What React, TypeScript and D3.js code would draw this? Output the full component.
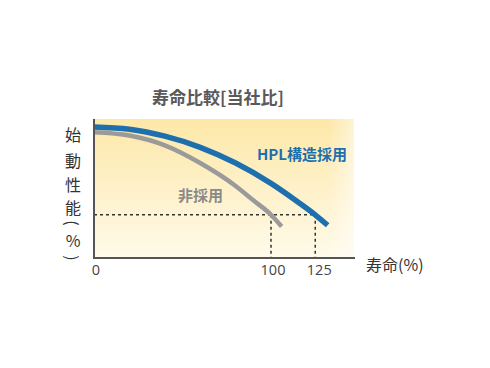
import { useEffect, useRef } from 'react';
import * as d3 from 'd3';

// life (%) vs starting performance (%)
const hplLife = [0, 20, 40, 60, 80, 100, 115, 125, 132];
const hplPerf = [100, 98.3, 93, 84.5, 72.5, 57, 43, 33, 25];
const stdLife = [0, 20, 40, 60, 80, 90, 100, 106];
const stdPerf = [96, 93.5, 86, 72.5, 55, 44, 33, 24];
const xTicks = [0, 100, 125];
const threshold = 33;
const yLabelChars = ['始', '動', '性', '能', '(', '%', ')'];

const W = 490;
const H = 368;
const FONT = '"Noto Sans CJK JP", "Noto Sans", sans-serif';
const NUM_FONT = '"Open Sans", Roboto, "Liberation Sans", sans-serif';

export default function App() {
  const svgRef = useRef<SVGSVGElement>(null);

  useEffect(() => {
    if (!svgRef.current) return;
    const svg = d3.select(svgRef.current);
    svg.selectAll('*').remove();

    const x = d3.scaleLinear().domain([0, 100]).range([94, 271]);
    const y = d3.scaleLinear().domain([0, 100]).range([258, 127]);
    const plotTop = 119;
    const plotRight = 354;

    // background gradients
    const defs = svg.append('defs');
    const vg = defs.append('linearGradient').attr('id', 'bgv').attr('x1', 0).attr('x2', 0).attr('y1', 0).attr('y2', 1);
    vg.append('stop').attr('offset', '0%').attr('stop-color', '#fde8a8');
    vg.append('stop').attr('offset', '100%').attr('stop-color', '#fffaea');
    const hg = defs.append('linearGradient').attr('id', 'bgh').attr('x1', 0).attr('x2', 1).attr('y1', 0).attr('y2', 0);
    hg.append('stop').attr('offset', '0%').attr('stop-color', '#fff').attr('stop-opacity', 0);
    hg.append('stop').attr('offset', '90%').attr('stop-color', '#fff').attr('stop-opacity', 0);
    hg.append('stop').attr('offset', '100%').attr('stop-color', '#fff').attr('stop-opacity', 0.5);

    svg.append('rect')
      .attr('x', 94).attr('y', plotTop)
      .attr('width', plotRight - 94).attr('height', 258 - plotTop)
      .attr('fill', 'url(#bgv)');
    svg.append('rect')
      .attr('x', 94).attr('y', plotTop)
      .attr('width', plotRight - 94).attr('height', 258 - plotTop)
      .attr('fill', 'url(#bgh)');

    // dashed reference lines
    const dash = svg.append('g')
      .attr('stroke', '#333')
      .attr('stroke-width', 1.5)
      .attr('stroke-dasharray', '3,3')
      .attr('fill', 'none');
    dash.append('line')
      .attr('x1', x(0)).attr('x2', x(125))
      .attr('y1', y(threshold)).attr('y2', y(threshold));
    [100, 125].forEach((v) => {
      dash.append('line')
        .attr('x1', x(v)).attr('x2', x(v))
        .attr('y1', y(threshold)).attr('y2', y(0));
    });

    // curves
    const line = d3.line<[number, number]>()
      .x((d) => x(d[0]))
      .y((d) => y(d[1]))
      .curve(d3.curveMonotoneX);

    svg.append('path')
      .datum(stdLife.map((v, i) => [v, stdPerf[i]] as [number, number]))
      .attr('d', line)
      .attr('fill', 'none')
      .attr('stroke', '#9a9a9a')
      .attr('stroke-width', 4.5);

    svg.append('path')
      .datum(hplLife.map((v, i) => [v, hplPerf[i]] as [number, number]))
      .attr('d', line)
      .attr('fill', 'none')
      .attr('stroke', '#1e6fae')
      .attr('stroke-width', 5.5);

    // axes
    svg.append('line')
      .attr('x1', 94).attr('x2', 94).attr('y1', plotTop).attr('y2', 259)
      .attr('stroke', '#555').attr('stroke-width', 2);
    svg.append('line')
      .attr('x1', 93).attr('x2', plotRight + 1).attr('y1', 258).attr('y2', 258)
      .attr('stroke', '#555').attr('stroke-width', 2);

    // tick labels
    svg.append('g')
      .selectAll('text')
      .data(xTicks)
      .enter()
      .append('text')
      .attr('x', (d) => x(d) + (d === 125 ? 4 : 2))
      .attr('y', 275)
      .attr('text-anchor', 'middle')
      .style('font-family', NUM_FONT)
      .style('font-size', '14.5px')
      .style('fill', '#444')
      .text((d) => d);

    svg.append('text')
      .attr('x', 366).attr('y', 271)
      .style('font-family', FONT)
      .style('font-size', '16px')
      .style('fill', '#333')
      .text('寿命(%)');

    // y label, vertical; brackets rotated like vertical writing
    const yCenters = [134, 160, 184, 207, 223, 240, 258];
    svg.append('g')
      .selectAll('text')
      .data(yLabelChars)
      .enter()
      .append('text')
      .attr('x', 73)
      .attr('y', (_d, i) => yCenters[i])
      .attr('dominant-baseline', 'central')
      .attr('text-anchor', 'middle')
      .attr('transform', (d, i) => (d === '(' || d === ')' ? `rotate(90, 73, ${yCenters[i]})` : null))
      .style('font-family', FONT)
      .style('font-size', '16px')
      .style('fill', '#333')
      .text((d) => d);

    // title
    svg.append('text')
      .attr('x', 218).attr('y', 104)
      .attr('text-anchor', 'middle')
      .style('font-family', FONT)
      .style('font-size', '17px')
      .style('font-weight', '700')
      .style('fill', '#595959')
      .text('寿命比較[当社比]');

    // series labels
    svg.append('text')
      .attr('x', 257).attr('y', 160)
      .style('font-family', FONT)
      .style('font-size', '15px')
      .style('font-weight', '700')
      .style('fill', '#1e6fae')
      .text('HPL構造採用');

    svg.append('text')
      .attr('x', 178).attr('y', 201)
      .style('font-family', FONT)
      .style('font-size', '15px')
      .style('font-weight', '700')
      .style('fill', '#8a8a8a')
      .text('非採用');
  }, []);

  return (
    <div style={{ position: 'absolute', left: 0, top: 0, width: W, height: H, background: '#fff' }}>
      <svg ref={svgRef} width={W} height={H} style={{ display: 'block' }} />
    </div>
  );
}
